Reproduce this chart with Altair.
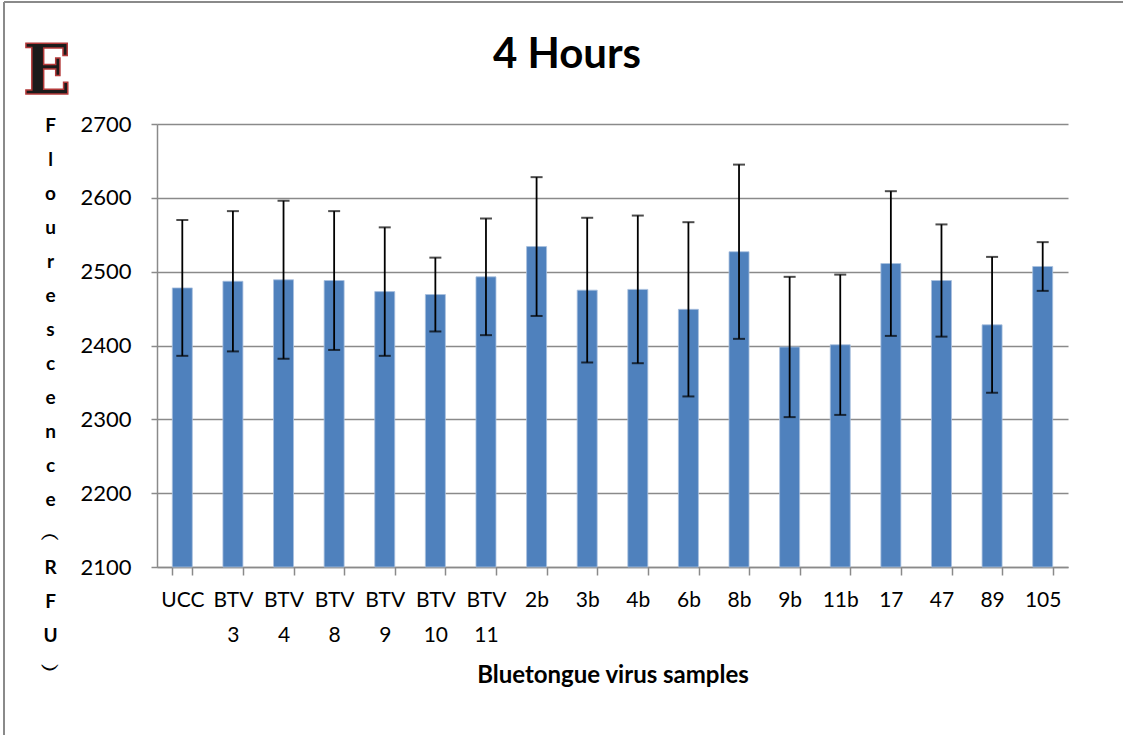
import altair as alt
import pandas as pd

# ---- data ----
samples = ["UCC", "BTV 3", "BTV 4", "BTV 8", "BTV 9", "BTV 10", "BTV 11", "2b", "3b",
           "4b", "6b", "8b", "9b", "11b", "17", "47", "89", "105"]
means = [2478, 2487, 2489, 2488, 2473, 2469, 2493, 2534, 2475,
         2476, 2449, 2527, 2398, 2401, 2511, 2488, 2428, 2507]
errors = [92, 95, 107, 94, 87, 50, 79, 94, 98,
          100, 118, 118, 95, 95, 98, 76, 92, 33]
y_ticks = [2100, 2200, 2300, 2400, 2500, 2600, 2700]

title_text = "4 Hours"
panel_letter = "E"
x_title = "Bluetongue virus samples"
y_title_lines = ["F", "l", "o", "u", "r", "e", "s", "c", "e", "n", "c", "e",
                 "\ufe35", "R", "F", "U", "\ufe36"]

df = pd.DataFrame({
    "sample": samples,
    "mean": means,
    "err": errors,
})
df["lo"] = df["mean"] - df["err"]
df["hi"] = df["mean"] + df["err"]

FONT = "Lato"
GRAY = "#8a8a8a"
W, H = 911, 443

x_enc = alt.X(
    "sample:N", sort=samples,
    scale=alt.Scale(paddingInner=0.6, paddingOuter=0.3),
    axis=alt.Axis(
        title=x_title, titleFont=FONT, titleFontSize=24, titleFontWeight="bold",
        titleColor="black", titleY=108, titleBaseline="middle",
        labelAngle=0, labelFont=FONT, labelFontSize=21, labelColor="black",
        labelExpr="split(datum.label, ' ')", labelLineHeight=35,
        labelBaseline="top", labelPadding=14,
        tickBand="extent", tickSize=8, tickColor=GRAY, tickWidth=1.5,
        domainColor=GRAY, domainWidth=1.5, grid=False,
    ),
)

y_scale = alt.Scale(domain=[2100, 2700], zero=False, nice=False)

bars = alt.Chart(df).mark_bar(size=20, color="#4F81BD", stroke="#A9C0DE",
                              strokeWidth=0.8).encode(
    x=x_enc,
    y=alt.Y(
        "mean:Q", scale=y_scale,
        axis=alt.Axis(
            values=y_ticks, format="d", title=y_title_lines, titleAngle=0,
            titleFont=FONT, titleFontSize=19, titleFontWeight="bold",
            titleColor="black", titleLineHeight=34, titleAlign="center",
            titleBaseline="top", titleX=-107, titleY=-8,
            labelFont=FONT, labelFontSize=22, labelColor="black", labelPadding=20,
            tickSize=6, tickColor=GRAY, tickWidth=1.5,
            domainColor=GRAY, domainWidth=1.5,
            gridColor=GRAY, gridWidth=1.5,
        ),
    ),
    y2=alt.datum(2100),
)

err_rule = alt.Chart(df).mark_rule(color="black", strokeWidth=1.8).encode(
    x=alt.X("sample:N", sort=samples),
    y=alt.Y("lo:Q", scale=y_scale),
    y2="hi:Q",
)
cap_lo = alt.Chart(df).mark_tick(color="black", size=12, thickness=2).encode(
    x=alt.X("sample:N", sort=samples),
    y=alt.Y("lo:Q", scale=y_scale),
)
cap_hi = alt.Chart(df).mark_tick(color="black", size=12, thickness=2).encode(
    x=alt.X("sample:N", sort=samples),
    y=alt.Y("hi:Q", scale=y_scale),
)

deco = pd.DataFrame({"title": [title_text], "letter": [panel_letter]})

title_mark = alt.Chart(deco).mark_text(
    font=FONT, fontSize=42, fontWeight="bold", color="black",
    align="center", baseline="alphabetic",
).encode(text="title:N", x=alt.value(410), y=alt.value(-56))

letter_mark = alt.Chart(deco).mark_text(
    font="DejaVu Serif Condensed, DejaVu Serif", fontSize=70, fontWeight="bold",
    color="#1b1b1b", stroke="#b33a3a", strokeWidth=1.5,
    align="center", baseline="alphabetic",
).encode(text="letter:N", x=alt.value(-110), y=alt.value(-30))

border_top = alt.Chart(deco).mark_rule(color=GRAY, strokeWidth=2).encode(
    x=alt.value(-153), x2=alt.value(970), y=alt.value(-122))
border_left = alt.Chart(deco).mark_rule(color=GRAY, strokeWidth=2).encode(
    x=alt.value(-153), y=alt.value(-122), y2=alt.value(615))

chart = alt.layer(
    bars, err_rule, cap_lo, cap_hi, title_mark, letter_mark, border_top, border_left
).properties(
    width=W, height=H,
    autosize=alt.AutoSizeParams(type="none"),
    padding={"left": 157, "top": 124, "right": 1123 - 157 - W, "bottom": 735 - 124 - H},
    background="white",
).configure_view(stroke=None)

chart.save("out.html", embed_options={"renderer": "svg", "actions": False})
